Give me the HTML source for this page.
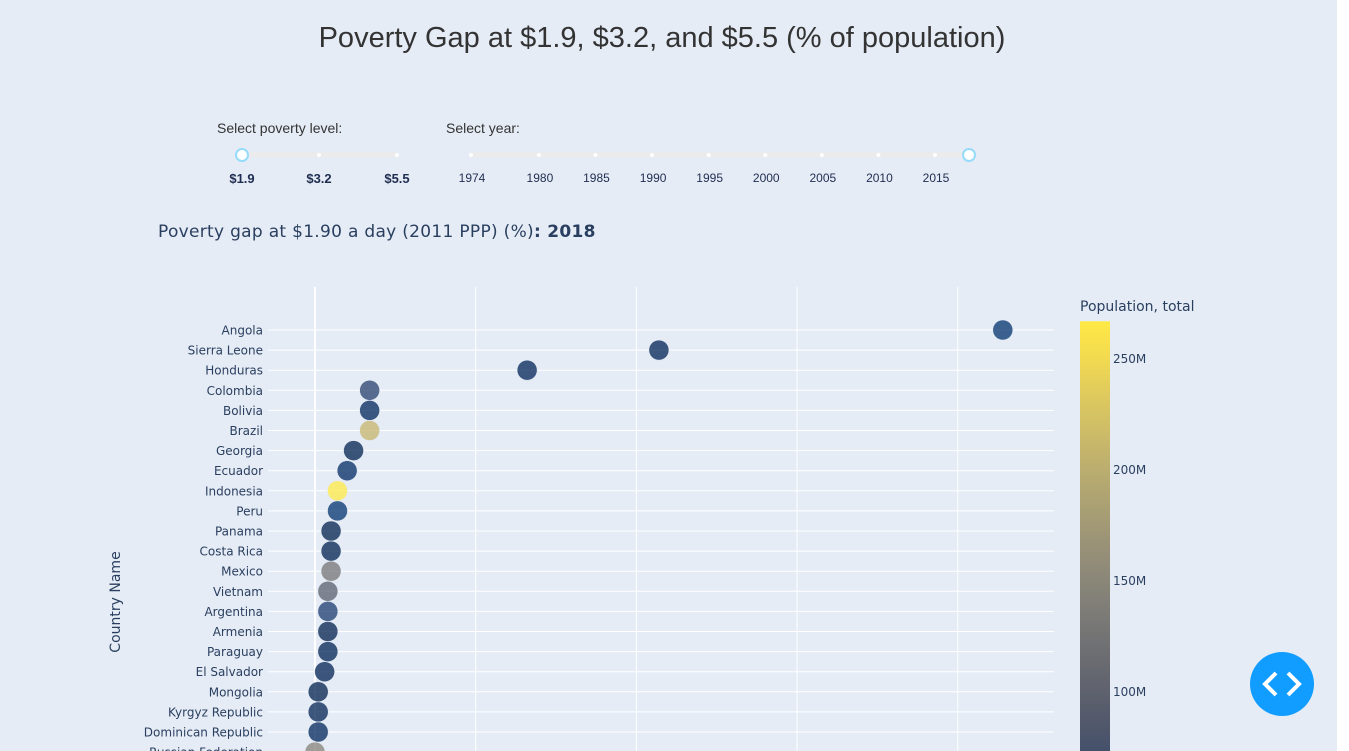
<!DOCTYPE html>
<html><head><meta charset="utf-8"><style>
body{margin:0;width:1349px;height:751px;overflow:hidden;background:#fff;font-family:"Liberation Sans",sans-serif}
#bg{position:absolute;left:0;top:0;width:1337px;height:751px;background:#e5ecf6}
.t{position:absolute;white-space:nowrap}
</style></head><body>
<div id="bg"></div>
<div class="t" style="left:0;width:1324px;text-align:center;top:22px;font-size:29px;color:#333">Poverty Gap at $1.9, $3.2, and $5.5 (% of population)</div>
<div class="t" style="left:217px;top:120px;font-size:14px;color:#333">Select poverty level:</div>
<div class="t" style="left:446px;top:120px;font-size:14px;color:#333">Select year:</div>
<svg width="1349" height="751" style="position:absolute;left:0;top:0;overflow:hidden" id="svg">
<g>
<rect x="241" y="152" width="156" height="5" rx="2" fill="#ebebeb"/>
<circle cx="319" cy="155" r="2" fill="#fff"/><circle cx="397" cy="155" r="2" fill="#fff"/>
<circle cx="242" cy="155" r="6" fill="#fff" stroke="#96dbfa" stroke-width="2"/>
<text x="242" y="183" font-size="13" font-weight="bold" fill="#1f2d50" text-anchor="middle">$1.9</text>
<text x="319" y="183" font-size="13" font-weight="bold" fill="#1f2d50" text-anchor="middle">$3.2</text>
<text x="397" y="183" font-size="13" font-weight="bold" fill="#1f2d50" text-anchor="middle">$5.5</text>
</g>
<g id="yearS">
<rect x="471" y="152" width="498" height="5" rx="2" fill="#ebebeb"/>
</g>
<text x="158" y="237" font-size="17" font-family="DejaVu Sans" fill="#2a3f5f" letter-spacing="0.3">Poverty gap at $1.90 a day (2011 PPP) (%)<tspan font-weight="bold">: 2018</tspan></text>
<g id="plot"></g>
<text transform="translate(120,602) rotate(-90)" font-size="14" font-family="DejaVu Sans" fill="#2a3f5f" text-anchor="middle">Country Name</text>
<defs><linearGradient id="cg" x1="0" y1="1" x2="0" y2="0"></linearGradient></defs>
<g id="cb">
<text x="1080" y="311" font-size="14" font-family="DejaVu Sans" fill="#2a3f5f">Population, total</text>
</g>
<g>
<circle cx="1282" cy="684" r="32" fill="#119dff"/>
<path d="M1276 673 L1265 684 L1276 695 M1288 673 L1299 684 L1288 695" stroke="#fff" stroke-width="4" fill="none"/>
</g>
</svg>
<script>
const countries=["Angola","Sierra Leone","Honduras","Colombia","Bolivia","Brazil","Georgia","Ecuador","Indonesia","Peru","Panama","Costa Rica","Mexico","Vietnam","Argentina","Armenia","Paraguay","El Salvador","Mongolia","Kyrgyz Republic","Dominican Republic","Russian Federation"];
const gap=[21.4,10.7,6.6,1.7,1.7,1.7,1.2,1.0,0.7,0.7,0.5,0.5,0.5,0.4,0.4,0.4,0.4,0.3,0.1,0.1,0.1,0.0];
const population=[31e6,7.6e6,9.6e6,49.6e6,11.4e6,209e6,3.7e6,17e6,267e6,32e6,4.2e6,5e6,126e6,95.5e6,44.5e6,3e6,7e6,6.4e6,3.2e6,6.3e6,10.6e6,144e6];
const years=[1974,1980,1985,1990,1995,2000,2005,2010,2015];
const cbTicks=[100e6,150e6,200e6,250e6];
const NS="http://www.w3.org/2000/svg";
function mk(t,a,p){const e=document.createElementNS(NS,t);for(const k in a)e.setAttribute(k,a[k]);p.appendChild(e);return e;}
const stops=[[0,[0,32,76]],[0.058824,[0,42,102]],[0.117647,[0,52,110]],[0.176471,[39,63,108]],[0.235294,[60,74,107]],[0.294118,[76,85,107]],[0.352941,[91,95,109]],[0.411765,[104,106,112]],[0.470588,[117,117,117]],[0.529412,[131,129,120]],[0.588235,[146,140,120]],[0.647059,[161,152,118]],[0.705882,[176,165,114]],[0.764706,[192,177,109]],[0.823529,[209,191,102]],[0.882353,[225,204,92]],[0.941176,[243,219,79]],[1,[255,233,69]]];
const cmin=Math.min(...population),cmax=Math.max(...population);
function col(v){let t=(v-cmin)/(cmax-cmin);t=Math.max(0,Math.min(1,t));for(let i=1;i<stops.length;i++){if(t<=stops[i][0]){const a=stops[i-1],b=stops[i],f=(t-a[0])/(b[0]-a[0]);return 'rgb('+a[1].map((c,j)=>Math.round(c+(b[1][j]-c)*f)).join(',')+')';}}return 'rgb(255,233,69)';}
const ys=document.getElementById('yearS');
years.forEach((y,i)=>{
 const x=471+(y-1974)/(2015-1974)*(935-471);
 const d=mk('circle',{cx:x,cy:155,r:2,fill:'#fff'},ys);
 
 
 const tx=mk('text',{x:x+1,y:182,'font-size':12,fill:'#1f2d50','text-anchor':'middle'},ys);tx.textContent=y;
 
 
});
const h=mk('circle',{cx:969,cy:155,r:6,fill:'#fff',stroke:'#96dbfa','stroke-width':2},ys);


const P=document.getElementById('plot');
const xs=v=>315+v*(160.7/5), yr=i=>330+i*20.1;
for(let g=1;g<=4;g++){const l=mk('line',{x1:xs(g*5),x2:xs(g*5),y1:287,y2:751,stroke:'#fff','stroke-width':1},P);
 
 }
countries.forEach((c,i)=>{
 const l=mk('line',{x1:268,x2:1054,y1:yr(i),y2:yr(i),stroke:'#fff','stroke-width':1},P);
 
 
 const t=mk('text',{x:263,y:yr(i)+4.5,'font-size':12,'font-family':'DejaVu Sans',fill:'#2a3f5f','text-anchor':'end'},P);t.textContent=c;
 
 
});
const z=mk('line',{x1:315,x2:315,y1:287,y2:751,stroke:'#fff','stroke-width':2},P);


countries.forEach((c,i)=>{
 const d=mk('circle',{cx:xs(gap[i]),cy:yr(i),r:10,fill:col(population[i]),'fill-opacity':0.75,stroke:'#e5ecf6','stroke-width':0.5},P);
 
 
});
const cb=document.getElementById('cb');
const cy=v=>359+(250e6-v)*(111/50e6);
const gr=document.getElementById('cg');
stops.forEach(s=>mk('stop',{offset:s[0],'stop-color':'rgb('+s[1].join(',')+')'},gr));
const cbTop=cy(cmax);
gr.setAttribute('gradientUnits','userSpaceOnUse');
gr.setAttribute('x1',0);gr.setAttribute('x2',0);gr.setAttribute('y1',cy(cmin));gr.setAttribute('y2',cbTop);
mk('rect',{x:1080,y:cbTop,width:30,height:Math.min(cy(cmin),751)-cbTop,fill:'url(#cg)'},cb);
cbTicks.forEach(v=>{const t=mk('text',{x:1113,y:cy(v)+4,'font-size':12,'font-family':'DejaVu Sans',fill:'#2a3f5f'},cb);t.textContent=(v/1e6)+'M';
 
 });
</script>
</body></html>
